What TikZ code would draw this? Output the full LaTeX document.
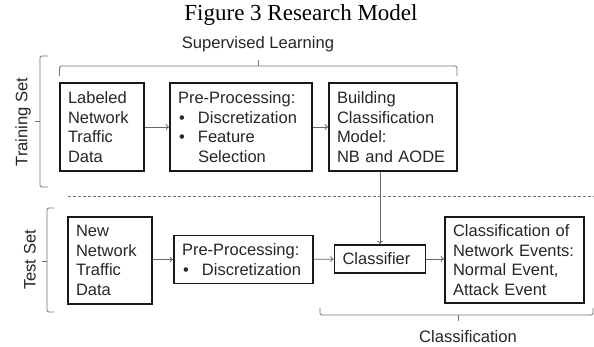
\documentclass[tikz,border=0pt]{standalone}
\usepackage{fontspec}
\setmainfont{Liberation Sans}
\newfontfamily\titlefont{Liberation Serif}
\usetikzlibrary{arrows.meta}
\newcommand\bitem[1]{\makebox[20pt][l]{\hspace{1pt}\textbullet}#1}
\newcommand\bcont[1]{\hspace*{20pt}#1}
\begin{document}
\begin{tikzpicture}[x=1pt,y=-1pt,
  box/.style={draw=black!90, line width=1.6pt, align=left, inner xsep=8pt, inner ysep=0pt,
    font=\fontsize{16.5}{19.5}\selectfont, text=black!85, anchor=center},
  conn/.style={draw=black!60, line width=0.8pt, -{To[length=3.5pt,width=6pt]}},
  brace/.style={draw=black!55, line width=0.9pt, rounded corners=1.5pt},
  sep/.style={draw=black!55, line width=0.8pt, dash pattern=on 3pt off 2pt},
  lbl/.style={font=\fontsize{16.6}{19.5}\selectfont, text=black!85}]
\useasboundingbox (0,0) rectangle (594,347);

% title
\node[font=\titlefont\fontsize{23}{26}\selectfont, text=black] (title) at (301,15) {Figure 3 Research Model};

% training row
\node[box, minimum width=84pt, minimum height=88pt, text width=68pt] (b1) at (102,127)
  {Labeled\\Network\\Traffic\\Data};
\node[box, minimum width=142pt, minimum height=88pt, text width=126pt] (b2) at (241,127)
  {Pre-Processing:\\\bitem{Discretization}\\\bitem{Feature}\\\bcont{Selection}};
\node[box, minimum width=128pt, minimum height=88pt, text width=112pt] (b3) at (393,127)
  {Building\\Classification\\Model:\\NB and AODE};

% test row
\node[box, minimum width=84pt, minimum height=87pt, text width=68pt] (n1) at (110,260.5)
  {New\\Network\\Traffic\\Data};
\node[box, minimum width=139pt, minimum height=48pt, text width=123pt] (p2) at (243.5,259.5)
  {Pre-Processing:\\\bitem{Discretization}};
\node[box, minimum width=91pt, minimum height=28pt, text width=75pt] (clf) at (380,259)
  {Classifier};
\node[box, minimum width=139pt, minimum height=86pt, text width=123pt] (res) at (514.5,260)
  {Classification of\\Network Events:\\Normal Event,\\Attack Event};

% connectors
\draw[conn] (b1) -- (b2);
\draw[conn] (b2) -- (b3);
\draw[conn] (b3.south -| clf.north) -- (clf.north);
\draw[conn] (n1.east |- p2.west) -- (p2.west);
\draw[conn] (p2) -- (clf);
\draw[conn] (clf) -- (clf -| res.west);

% separator
\coordinate (sepL) at (68,196);
\coordinate (sepR) at (594,196);
\draw[sep] (sepL) -- (sepR);

% braces
\draw[brace] (59.5,76) -- (59.5,66) -- (457,66) -- (457,76);
\draw[brace] (258,66) -- (258,60);
\node[lbl] (sup) at (258,44) {Supervised Learning};

\draw[brace] (48,56) -- (40,56) -- (40,187) -- (48,187);
\draw[brace] (40,121) -- (35,121);
\node[lbl, rotate=90] (train) at (23,122) {Training Set};

\draw[brace] (54,208) -- (47,208) -- (47,312) -- (54,312);
\draw[brace] (47,261) -- (42,261);
\node[lbl, rotate=90] (test) at (30,260) {Test Set};

\draw[brace] (320,308) -- (320,315) -- (593,315) -- (593,308);
\draw[brace] (458,315) -- (458,321);
\node[lbl] (cls) at (468,337) {Classification};
\end{tikzpicture}
\end{document}
